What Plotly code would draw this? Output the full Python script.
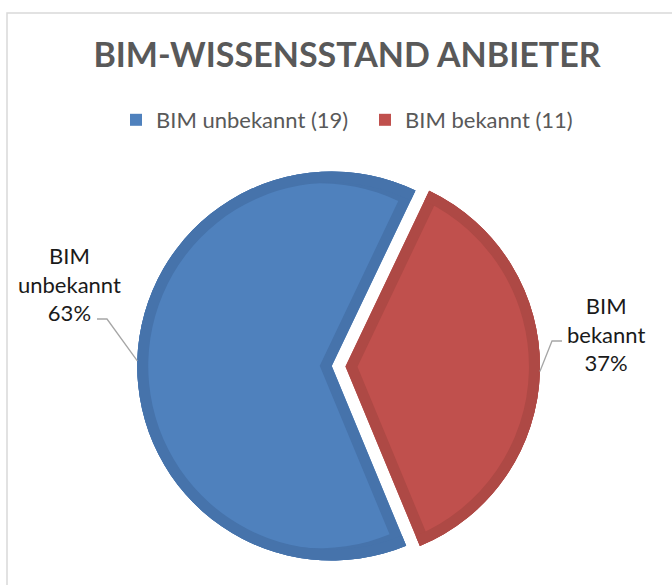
import math
import plotly.graph_objects as go

# ---------------- data ----------------
labels = ["BIM unbekannt", "BIM bekannt"]
counts = [19, 11]
label_lines = [["BIM", "unbekannt"], ["BIM", "bekannt"]]
chart_title = "BIM-WISSENSSTAND ANBIETER"

# ---------------- style ----------------
W, H = 672, 585
FONT = "Lato"
fill_colors = ["#4F81BD", "#C0504D"]
rim_colors = ["#4673AB", "#AE4945"]
start_deg = 157.5          # first slice starts here (clockwise from 12 o'clock)
CX, CY = 338.6, 366.2      # pie centre in px (from top-left)
R = 194.5                  # slice radius in px
PULL_PX = 6.85             # explosion of each slice in px
BAND = 11                  # darker rim width in px

total = sum(counts)
spans = [c / total * 360.0 for c in counts]
starts = []
a = start_deg
for s in spans:
    starts.append(a)
    a += s
mids = [st + sp / 2 for st, sp in zip(starts, spans)]
pcts = [round(c / total * 100) for c in counts]

half = R + PULL_PX
dom_x = [(CX - half) / W, (CX + half) / W]
dom_y = [(H - CY - half) / H, (H - CY + half) / H]

shifts = [BAND / math.sin(math.radians(sp / 2)) for sp in spans]
R_in = R - max(shifts)
pull_base = [PULL_PX / R] * len(counts)
pull_in = [(PULL_PX + s) / R_in for s in shifts]

legend_labels = [f"{l} ({c})" for l, c in zip(labels, counts)]
common = dict(labels=legend_labels, values=counts, sort=False, direction="clockwise",
              rotation=start_deg, textinfo="none", hoverinfo="label+value+percent",
              domain=dict(x=dom_x, y=dom_y))

fig = go.Figure()
fig.add_trace(go.Pie(**common, pull=pull_base, showlegend=True,
                     marker=dict(colors=fill_colors, line=dict(width=0))))
# dark base slices (rim colour)
fig.add_trace(go.Pie(**common, pull=pull_base, showlegend=False,
                     marker=dict(colors=rim_colors, line=dict(width=0))))
# light inner fill, inset from the straight edges
fig.add_trace(go.Pie(**common, pull=pull_in, showlegend=False,
                     marker=dict(colors=fill_colors, line=dict(width=0))))
# dark ring along the arc
fig.add_trace(go.Pie(**common, pull=pull_base, hole=(R - BAND) / R, showlegend=False,
                     marker=dict(colors=rim_colors, line=dict(width=0))))

# ---------------- labels + leader lines ----------------
label_pos = [(69.5, 284.0), (605.5, 334.0)]       # px centres of label blocks
elbows = [((97, 319), (107, 319)), ((562, 341), (552, 341))]

def px2paper(x, y):
    return x / W, 1 - y / H

shapes = []
annotations = []
for i in range(len(counts)):
    th = math.radians(mids[i])
    ex = CX + (R + PULL_PX) * math.sin(th)
    ey = CY - (R + PULL_PX) * math.cos(th)
    (x0, y0), (x1, y1) = elbows[i]
    p0 = px2paper(x0, y0); p1 = px2paper(x1, y1); p2 = px2paper(ex, ey)
    shapes.append(dict(type="path", xref="paper", yref="paper",
                       path=f"M{p0[0]},{p0[1]} L{p1[0]},{p1[1]} L{p2[0]},{p2[1]}",
                       line=dict(color="#A6A6A6", width=1.3)))
    lx, ly = px2paper(*label_pos[i])
    txt = "<br>".join(label_lines[i] + [f"{pcts[i]}%"])
    annotations.append(dict(x=lx, y=ly, xref="paper", yref="paper", text=txt,
                            showarrow=False, xanchor="center", yanchor="middle",
                            align="center", font=dict(family=FONT, size=22, color="#1A1A1A")))

# chart frame
shapes.append(dict(type="rect", xref="paper", yref="paper",
                   x0=7 / W, y0=-0.2, x1=1.2, y1=1 - 13 / H,
                   line=dict(color="#D9D9D9", width=1.5), fillcolor="rgba(0,0,0,0)", layer="below"))

fig.update_layout(
    width=W, height=H, autosize=False,
    margin=dict(l=0, r=0, t=0, b=0),
    paper_bgcolor="white", plot_bgcolor="white",
    title=dict(text=f"<b>{chart_title}</b>", x=347 / W, xanchor="center",
               y=1 - 55 / H, yanchor="middle", yref="container",
               font=dict(family=FONT, size=34, color="#595959")),
    legend=dict(orientation="h", x=116 / W, xanchor="left", y=1 - 120 / H, yanchor="middle",
                entrywidth=204, entrywidthmode="pixels",
                font=dict(family=FONT, size=22, color="#595959"), bgcolor="rgba(0,0,0,0)"),
    shapes=shapes, annotations=annotations,
)

fig.write_html("out.html", config={"displayModeBar": False},
               post_script="document.body.style.margin='0';")
